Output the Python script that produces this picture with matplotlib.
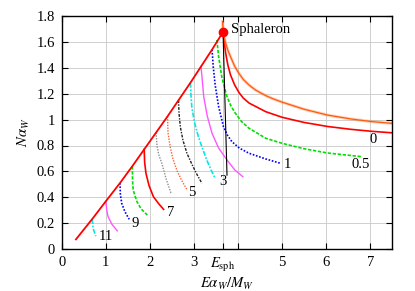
import matplotlib
matplotlib.use("Agg")
import matplotlib.pyplot as plt

plt.rcParams['font.family'] = ['Liberation Serif', 'DejaVu Serif']
plt.rcParams['mathtext.fontset'] = 'stix'
plt.rcParams['font.size'] = 10.5

# --- data ---
E_sph = 3.66
N_sph = 1.677

# lower envelope (straight-ish red line up to the sphaleron)
env_x = [0.32, 0.69, 1.0, 1.32, 1.60, 1.87, 2.14, 2.40, 2.65, 2.92, 3.16, 3.41, 3.66]
env_y = [0.075, 0.232, 0.370, 0.510, 0.640, 0.770, 0.900, 1.025, 1.150, 1.285, 1.41, 1.54, 1.677]

# noisy orange curve from the sphaleron
orange_x = [3.65, 3.66, 3.69, 3.72, 3.77, 3.83, 3.92, 4.02, 4.12, 4.25, 4.4, 4.63, 4.8, 5.0, 5.5, 6.03, 6.56, 7.02, 7.5]
orange_y = [1.757, 1.677, 1.63, 1.59, 1.535, 1.486, 1.415, 1.357, 1.31, 1.267, 1.228, 1.185, 1.16, 1.135, 1.08, 1.035, 1.005, 0.985, 0.971]

# thin black line below the sphaleron
black_x = [3.66, 3.75]
black_y = [1.677, 0.571]

# family of curves, keyed by label
c0_x = [3.66, 3.69, 3.72, 3.77, 3.83, 3.92, 4.02, 4.12, 4.25, 4.63, 5.0, 5.5, 6.03, 6.56, 7.02, 7.5]
c0_y = [1.677, 1.59, 1.512, 1.42, 1.345, 1.27, 1.21, 1.166, 1.128, 1.061, 1.018, 0.978, 0.947, 0.925, 0.910, 0.898]
c05_x = [3.52, 3.54, 3.56, 3.6, 3.63, 3.69, 3.75, 3.84, 3.94, 4.08, 4.25, 4.63, 5.0, 5.5, 6.03, 6.83]
c05_y = [1.615, 1.55, 1.486, 1.40, 1.332, 1.25, 1.177, 1.105, 1.049, 0.985, 0.933, 0.856, 0.817, 0.775, 0.742, 0.713]
c1_x = [3.41, 3.44, 3.48, 3.56, 3.67, 3.76, 3.86, 4.03, 4.25, 4.63, 4.97]
c1_y = [1.54, 1.40, 1.27, 1.10, 0.945, 0.88, 0.83, 0.78, 0.74, 0.696, 0.662]
c2_x = [3.16, 3.19, 3.22, 3.30, 3.41, 3.56, 3.75, 3.93, 4.11]
c2_y = [1.41, 1.30, 1.18, 1.03, 0.894, 0.78, 0.688, 0.61, 0.559]
c3_x = [2.92, 2.93, 2.95, 3.01, 3.10, 3.19, 3.29, 3.39, 3.48]
c3_y = [1.285, 1.20, 1.10, 0.98, 0.868, 0.78, 0.688, 0.61, 0.546]
c4_x = [2.65, 2.66, 2.69, 2.75, 2.84, 2.96, 3.07, 3.18]
c4_y = [1.150, 1.05, 0.945, 0.84, 0.74, 0.65, 0.575, 0.508]
c5_x = [2.40, 2.41, 2.46, 2.52, 2.61, 2.72, 2.84]
c5_y = [1.025, 0.90, 0.79, 0.70, 0.61, 0.53, 0.46]
c6_x = [2.14, 2.16, 2.20, 2.27, 2.37, 2.48]
c6_y = [0.900, 0.80, 0.73, 0.662, 0.54, 0.43]
c7_x = [1.87, 1.88, 1.91, 1.98, 2.08, 2.20, 2.31]
c7_y = [0.770, 0.67, 0.585, 0.49, 0.404, 0.35, 0.307]
c8_x = [1.60, 1.605, 1.62, 1.70, 1.80, 1.94]
c8_y = [0.640, 0.53, 0.456, 0.37, 0.31, 0.263]
c9_x = [1.32, 1.33, 1.36, 1.43, 1.53]
c9_y = [0.510, 0.42, 0.353, 0.29, 0.23]
c10_x = [1.0, 1.02, 1.05, 1.14, 1.26]
c10_y = [0.370, 0.30, 0.25, 0.19, 0.141]
c11_x = [0.69, 0.71, 0.77]
c11_y = [0.232, 0.16, 0.10]

labels = ['0', '0.5', '1', '3', '5', '7', '9', '11']
label_x = [7.07, 6.79, 5.12, 3.66, 2.95, 2.46, 1.66, 1.0]
label_y = [0.85, 0.65, 0.65, 0.52, 0.44, 0.28, 0.20, 0.095]

xticks = [0, 1, 2, 3, E_sph, 4, 5, 6, 7]
xticklabels = ['0', '1', '2', '3', r'$E_{\rm sph}$', '', '5', '6', '7']
yticks = [0, 0.2, 0.4, 0.6, 0.8, 1.0, 1.2, 1.4, 1.6, 1.8]
yticklabels = ['0', '0.2', '0.4', '0.6', '0.8', '1', '1.2', '1.4', '1.6', '1.8']

fig = plt.figure(figsize=(4.15, 2.91), dpi=100)
ax = fig.add_axes([0.149, 0.144, 0.796, 0.801])

curves = [
    (c0_x, c0_y, dict(color='#ff0000', lw=1.2, ls='-')),
    (c05_x, c05_y, dict(color='#00e000', lw=1.2, ls=(0, (2, 1)))),
    (c1_x, c1_y, dict(color='#0000ff', lw=1.2, ls=(0, (1, 1)))),
    (c2_x, c2_y, dict(color='#ff55ff', lw=1.0, ls='-')),
    (c3_x, c3_y, dict(color='#00e8e8', lw=1.2, ls=(0, (3, 1, 1, 1)))),
    (c4_x, c4_y, dict(color='#202020', lw=1.0, ls=(0, (2, 1, 1, 1)))),
    (c5_x, c5_y, dict(color='#ff6030', lw=1.0, ls=(0, (1, 1)))),
    (c6_x, c6_y, dict(color='#909090', lw=1.0, ls=(0, (1, 1)))),
    (c7_x, c7_y, dict(color='#ff0000', lw=1.2, ls='-')),
    (c8_x, c8_y, dict(color='#00e000', lw=1.2, ls=(0, (2, 1)))),
    (c9_x, c9_y, dict(color='#0000ff', lw=1.2, ls=(0, (1, 1)))),
    (c10_x, c10_y, dict(color='#ff55ff', lw=1.0, ls='-')),
    (c11_x, c11_y, dict(color='#00e8e8', lw=1.2, ls=(0, (3, 1, 1, 1)))),
]
for cx, cy, st in curves:
    ax.plot(cx, cy, **st)

ax.plot(orange_x, orange_y, color='#ff7a30', lw=2.2, alpha=0.35)
ax.plot(orange_x, orange_y, color='#ff5a10', lw=0.9)
ax.plot(black_x, black_y, color='black', lw=0.8)
ax.plot(env_x, env_y, color='#ff0000', lw=1.3)
ax.plot([E_sph], [N_sph], 'o', color='#ff0000', ms=6, zorder=5)
ax.text(E_sph + 0.17, N_sph + 0.015, 'Sphaleron', va='center', ha='left')

for lab, lx, ly in zip(labels, label_x, label_y):
    ax.text(lx, ly, lab, ha='center', va='center')

ax.set_xlim(0, 7.5)
ax.set_ylim(0, 1.8)
ax.set_xticks(xticks)
ax.set_xticklabels(xticklabels)
ax.set_yticks(yticks)
ax.set_yticklabels(yticklabels)
ax.tick_params(direction='in', top=True, right=True, length=4, width=0.8, pad=5)
ax.grid(True, color='#c8c8c8', lw=0.6)
ax.set_axisbelow(True)
for s in ax.spines.values():
    s.set_linewidth(1.0)

ax.set_xlabel(r'$E\alpha_W/M_W$', labelpad=1)
ax.set_ylabel(r'$N\alpha_W$', labelpad=3)

fig.savefig('out.png', dpi=100)
